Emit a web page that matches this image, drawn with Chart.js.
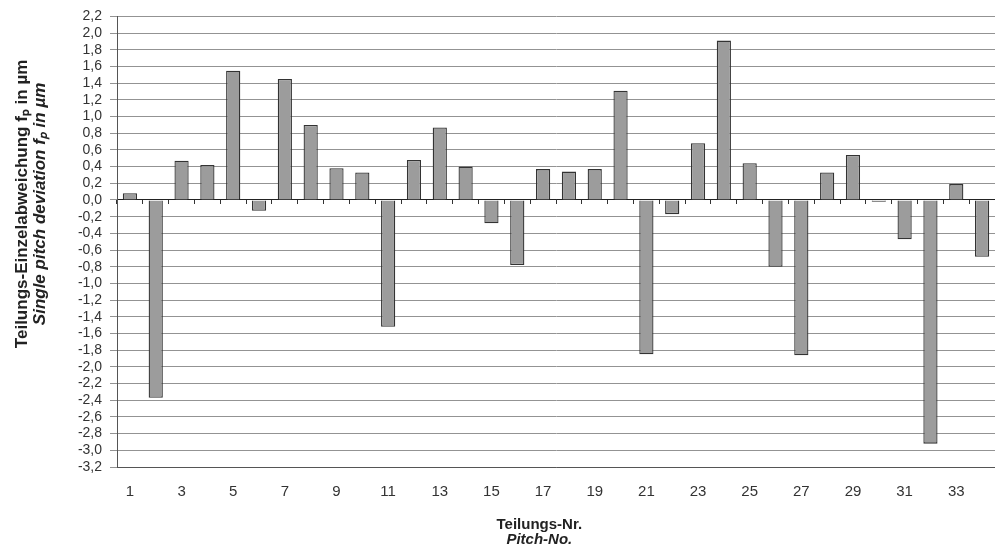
<!DOCTYPE html>
<html>
<head>
<meta charset="utf-8">
<title>Teilungs-Einzelabweichung</title>
<script src="https://cdn.jsdelivr.net/npm/chart.js@4.4.1/dist/chart.umd.min.js"></script>
<style>
  html, body { margin: 0; padding: 0; background: #ffffff; }
  #wrap { width: 995px; height: 558px; }
</style>
</head>
<body>
<div id="wrap"><canvas id="pitch-chart" width="995" height="558"></canvas></div>
<script>
// Pitch numbers (categories)
const pitchNumbers = ['1', '2', '3', '4', '5', '6', '7', '8', '9', '10', '11', '12',
  '13', '14', '15', '16', '17', '18', '19', '20', '21', '22', '23', '24',
  '25', '26', '27', '28', '29', '30', '31', '32', '33', '34'];

// Single pitch deviation fp in µm
const pitchDeviation = [0.08, -2.37, 0.47, 0.42, 1.55, -0.13, 1.45, 0.90, 0.38, 0.33,
  -1.52, 0.48, 0.87, 0.40, -0.28, -0.78, 0.37, 0.34, 0.37, 1.31,
  -1.85, -0.17, 0.68, 1.91, 0.44, -0.80, -1.86, 0.33, 0.54, -0.02,
  -0.47, -2.92, 0.19, -0.68];

// y axis range
const yMin = -3.2;
const yMax = 2.2;
const yStep = 0.2;

const FONT = "'Liberation Sans', Arial, Helvetica, sans-serif";

// axis titles (leading / trailing spaces nudge the centred titles like in the original)
const yTitleDe = ' '.repeat(16) + 'Teilungs-Einzelabweichung f\u209A in \u00B5m';
const yTitleEn = ' '.repeat(16) + 'Single pitch deviation f\u209A in \u00B5m';
const xTitleDe = 'Teilungs-Nr.' + ' '.repeat(8);
const xTitleEn = 'Pitch-No.' + ' '.repeat(8);

document.addEventListener('DOMContentLoaded', function() {
    const ctx = document.getElementById('pitch-chart').getContext('2d');

    window.pitchChart = new Chart(ctx, {
        type: 'bar',
        data: {
            labels: pitchNumbers,
            datasets: [{
                label: 'fp',
                data: pitchDeviation,
                backgroundColor: '#9c9c9c',
                borderColor: '#333333',
                borderWidth: 1.3,
                barPercentage: 0.55,
                categoryPercentage: 1.0,
                xAxisID: 'x',
                yAxisID: 'y'
            }]
        },
        options: {
            responsive: false,
            animation: false,
            layout: {
                padding: { left: 14, top: 10, right: 0, bottom: 11 }
            },
            plugins: {
                legend: { display: false },
                tooltip: { enabled: false }
            },
            scales: {
                x: {
                    type: 'category',
                    position: 'bottom',
                    weight: 0,
                    offset: true,
                    // hidden tick marks only push the labels down
                    grid: { display: false, drawTicks: true, tickLength: 13 },
                    border: { display: true, color: '#555555' },
                    ticks: {
                        autoSkip: false,
                        maxRotation: 0,
                        padding: 3,
                        color: '#333333',
                        font: { family: FONT, size: 15 },
                        callback: function(value, index) {
                            return index % 2 === 0 ? this.getLabelForValue(value) : '';
                        }
                    },
                    title: {
                        display: true,
                        text: xTitleDe,
                        color: '#222222',
                        font: { family: FONT, size: 15, weight: 'bold', lineHeight: 1 },
                        padding: { top: 13, bottom: 0 }
                    }
                },
                xPitch: {
                    type: 'category',
                    position: 'bottom',
                    weight: 1,
                    display: true,
                    grid: { display: false, drawTicks: false },
                    border: { display: false },
                    ticks: { display: false },
                    title: {
                        display: true,
                        text: xTitleEn,
                        color: '#222222',
                        font: { family: FONT, size: 15, weight: 'bold', style: 'italic', lineHeight: 1 },
                        padding: { top: 0, bottom: 0 }
                    }
                },
                // zero line with the small category ticks
                xZero: {
                    type: 'category',
                    position: { y: 0 },
                    offset: true,
                    grid: {
                        offset: true,
                        drawOnChartArea: false,
                        drawTicks: true,
                        tickLength: 4,
                        color: '#333333'
                    },
                    border: { display: true, color: '#222222', width: 1 },
                    ticks: { display: false }
                },
                y: {
                    type: 'linear',
                    position: 'left',
                    weight: 0,
                    min: yMin,
                    max: yMax,
                    ticks: {
                        stepSize: yStep,
                        autoSkip: false,
                        padding: 8,
                        color: '#333333',
                        font: { family: FONT, size: 14 },
                        callback: function(value) {
                            const v = Math.abs(value) < 1e-9 ? 0 : value;
                            return v.toFixed(1).replace('.', ',');
                        }
                    },
                    grid: {
                        color: function(c) {
                            if (c.tick && Math.abs(c.tick.value) < 1e-9) return '#222222';
                            return '#939393';
                        },
                        tickColor: '#939393',
                        tickLength: 7,
                        lineWidth: 1
                    },
                    border: { display: true, color: '#555555' },
                    title: {
                        display: true,
                        text: yTitleEn,
                        color: '#222222',
                        font: { family: FONT, size: 17, weight: 'bold', style: 'italic', lineHeight: 1 },
                        padding: { top: 1, bottom: 0 }
                    },
                    afterFit: function(scale) {
                        scale.width = 86;
                    }
                },
                yTitle: {
                    type: 'linear',
                    position: 'left',
                    weight: 1,
                    display: true,
                    grid: { display: false, drawTicks: false },
                    border: { display: false },
                    ticks: { display: false },
                    title: {
                        display: true,
                        text: yTitleDe,
                        color: '#222222',
                        font: { family: FONT, size: 17, weight: 'bold', lineHeight: 1 },
                        padding: { top: 0, bottom: 0 }
                    }
                }
            }
        }
    });
});
</script>
</body>
</html>
